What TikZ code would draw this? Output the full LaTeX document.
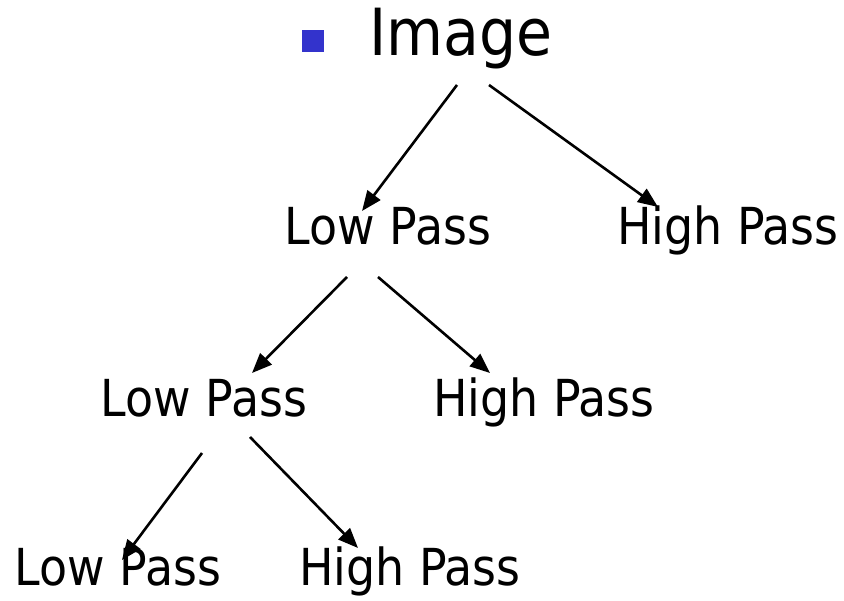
\documentclass[tikz,border=0pt]{standalone}
\usepackage{fontspec}
\setmainfont{DejaVu Sans Condensed}
\usetikzlibrary{arrows.meta}
\definecolor{bulletblue}{RGB}{51,51,204}
\tikzset{
  lbl/.style={anchor=base, inner sep=0pt, font=\fontsize{51}{60}\selectfont},
  conn/.style={line width=2.6pt, -{Triangle[length=20pt,width=16pt]}}
}
\begin{document}
\begin{tikzpicture}[x=1pt,y=-1pt]
\useasboundingbox (0,0) rectangle (844,601);
% bullet and title
\node[fill=bulletblue, minimum size=22pt, inner sep=0pt] (bullet) at (313,41) {};
\node[lbl, font=\fontsize{65}{78}\selectfont] (img) at (461,56) {Image};
% level 2
\node[lbl] (lp1) at (388,245) {Low Pass};
\node[lbl] (hp1) at (728,245) {High Pass};
% level 3
\node[lbl] (lp2) at (204,417) {Low Pass};
\node[lbl] (hp2) at (544,417) {High Pass};
% level 4
\node[lbl] (lp3) at (118,585) {Low Pass};
\node[lbl] (hp3) at (410,585) {High Pass};
% connector ends
\coordinate (img-l) at (457,85);
\coordinate (img-r) at (489,85);
\coordinate (lp1-in) at (362,211);
\coordinate (hp1-in) at (658,207);
\coordinate (lp1-l) at (347,277);
\coordinate (lp1-r) at (378,277);
\coordinate (lp2-in) at (252,373);
\coordinate (hp2-in) at (490,373);
\coordinate (lp2-l) at (202,453);
\coordinate (lp2-r) at (250,437);
\coordinate (lp3-in) at (122,560);
\coordinate (hp3-in) at (358,548);
% connectors
\draw[conn] (img-l) -- (lp1-in);
\draw[conn] (img-r) -- (hp1-in);
\draw[conn] (lp1-l) -- (lp2-in);
\draw[conn] (lp1-r) -- (hp2-in);
\draw[conn] (lp2-l) -- (lp3-in);
\draw[conn] (lp2-r) -- (hp3-in);
\end{tikzpicture}
\end{document}
